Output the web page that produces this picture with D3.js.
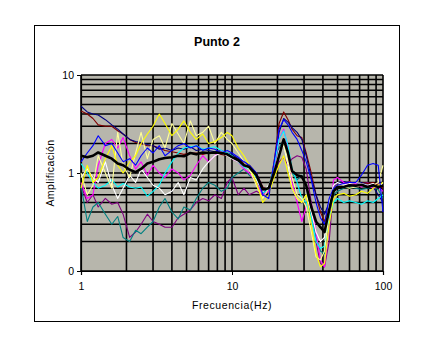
<!DOCTYPE html>
<html>
<head>
<meta charset="utf-8">
<script src="https://cdn.jsdelivr.net/npm/d3@7"></script>
<style>
  body { margin: 0; background: #fff; }
  text { font-family: Arial, "Liberation Sans", sans-serif; }
</style>
</head>
<body>
<div id="chart"></div>
<script>
// frecuencias (Hz) comunes a todas las series
const freq = [1, 1.1, 1.2, 1.3, 1.45, 1.6, 1.75, 1.9, 2.1, 2.3, 2.5, 2.75, 3, 3.3, 3.6, 4, 4.4, 4.8, 5.3, 5.8,
  6.4, 7, 7.7, 8.5, 9.3, 10, 11, 12, 13, 14.5, 16, 17.5, 19, 20.5, 22, 23.5, 25, 27, 29, 31,
  33.5, 36, 38.5, 41, 44, 47, 50, 55, 60, 66, 72, 79, 86, 93, 100];

const navy = [4.8, 4.2, 4.0, 3.9, 3.5, 3.1, 2.8, 2.5, 2.2, 2.1, 2.05, 1.95, 1.9, 1.75, 1.8, 1.7, 1.8, 1.75, 1.85, 1.7,
  1.75, 1.7, 1.65, 1.7, 1.6, 1.55, 1.4, 1.3, 1.2, 1.0, 0.7, 0.6, 1.2, 2.6, 3.6, 3.3, 2.9, 2.6, 2.2, 1.5,
  0.9, 0.6, 0.45, 0.38, 0.5, 0.75, 0.8, 0.82, 0.8, 0.78, 0.8, 0.75, 0.72, 0.6, 0.5];
const maroon = [4.3, 4.0, 3.6, 3.1, 3.0, 3.0, 2.7, 2.5, 2.2, 2.05, 2.0, 1.9, 1.9, 1.8, 1.7, 1.65, 1.6, 1.55, 1.6, 1.6,
  1.55, 1.6, 1.6, 1.55, 1.5, 1.5, 1.4, 1.25, 1.2, 1.0, 0.72, 0.65, 1.3, 3.2, 4.2, 3.5, 2.8, 2.4, 2.3, 1.6,
  1.0, 0.6, 0.4, 0.32, 0.45, 0.7, 0.75, 0.72, 0.78, 0.75, 0.8, 0.78, 0.8, 0.75, 0.7];
const blue = [1.3, 1.6, 1.9, 2.4, 1.9, 2.0, 1.6, 1.3, 1.4, 1.2, 1.5, 1.8, 1.6, 1.9, 1.5, 1.7, 1.9, 2.0, 1.8, 1.9,
  1.7, 1.8, 1.75, 1.6, 1.7, 1.6, 1.45, 1.3, 1.2, 1.0, 0.6, 0.55, 1.3, 2.8, 3.5, 3.1, 2.6, 2.2, 1.7, 1.3,
  0.85, 0.5, 0.35, 0.3, 0.55, 0.7, 0.75, 0.78, 0.8, 0.8, 0.95, 1.2, 1.25, 1.2, 0.4];
const magenta = [0.8, 0.55, 0.6, 1.2, 2.0, 2.2, 1.8, 2.3, 1.5, 1.1, 1.3, 0.95, 1.2, 1.0, 0.9, 1.1, 1.0, 0.85, 0.95, 1.2,
  1.5, 1.3, 1.5, 1.7, 1.55, 1.4, 1.3, 1.1, 1.0, 0.8, 0.6, 0.65, 1.1, 2.2, 2.8, 1.8, 0.8, 0.5, 0.32, 0.45,
  0.5, 0.25, 0.13, 0.11, 0.3, 0.85, 0.9, 0.8, 0.75, 0.78, 0.72, 0.75, 0.7, 0.72, 0.65];
const purple = [0.75, 0.5, 0.6, 0.45, 0.55, 0.48, 0.5, 0.38, 0.22, 0.25, 0.3, 0.38, 0.32, 0.3, 0.28, 0.28, 0.35, 0.38, 0.42, 0.5,
  0.55, 0.52, 0.6, 0.55, 0.8, 0.9, 0.6, 0.7, 0.6, 0.65, 0.6, 0.65, 1.0, 1.3, 1.45, 1.2, 1.4, 1.5, 1.45, 1.1,
  0.5, 0.2, 0.12, 0.11, 0.2, 0.7, 0.8, 0.78, 0.82, 0.75, 0.78, 0.8, 0.75, 0.8, 0.7];
const teal = [0.75, 0.32, 0.45, 0.5, 0.38, 0.3, 0.36, 0.22, 0.2, 0.26, 0.24, 0.28, 0.32, 0.45, 0.55, 0.4, 0.34, 0.45, 0.42, 0.55,
  0.7, 0.8, 0.75, 0.65, 0.7, 0.9, 1.0, 1.1, 0.95, 0.85, 0.62, 0.7, 1.2, 1.8, 2.2, 1.6, 1.0, 0.85, 0.95, 0.75,
  0.35, 0.22, 0.16, 0.15, 0.3, 0.6, 0.65, 0.7, 0.72, 0.7, 0.68, 0.7, 0.72, 0.68, 0.55];
const cyan = [1.25, 1.0, 0.8, 0.7, 0.75, 0.85, 0.72, 0.78, 0.72, 0.7, 0.72, 0.58, 0.65, 0.75, 1.0, 1.3, 1.6, 1.8, 1.85, 1.9,
  1.75, 1.8, 1.85, 1.7, 1.6, 1.5, 1.3, 1.15, 1.1, 0.9, 0.62, 0.68, 1.2, 2.2, 2.7, 1.9, 1.1, 0.8, 0.55, 0.5,
  0.35, 0.2, 0.17, 0.18, 0.35, 0.5, 0.55, 0.5, 0.52, 0.5, 0.48, 0.52, 0.5, 0.55, 0.6];
const yellow = [0.7, 1.2, 0.8, 0.9, 1.4, 1.9, 1.2, 1.0, 1.3, 1.5, 2.0, 2.5, 3.0, 4.0, 3.2, 2.4, 2.8, 3.4, 2.6, 2.2,
  2.5, 2.0, 2.1, 2.3, 2.6, 2.4, 1.8, 1.5, 1.2, 0.8, 0.5, 0.6, 0.9, 1.2, 1.5, 1.0, 0.7, 0.55, 0.5, 0.6,
  0.3, 0.15, 0.11, 0.12, 0.3, 0.55, 0.6, 0.62, 0.58, 0.6, 0.65, 0.62, 0.7, 0.75, 0.8];
const paleYellow = [1.0, 0.6, 0.75, 1.5, 1.0, 0.7, 2.6, 1.2, 0.9, 1.6, 2.6, 1.4, 2.2, 2.4, 1.8, 3.2, 2.5, 2.0, 3.4, 2.4,
  2.6, 3.0, 2.0, 2.6, 2.2, 2.0, 1.6, 1.3, 1.1, 0.75, 0.55, 0.7, 1.0, 1.6, 2.0, 1.3, 0.9, 0.6, 0.55, 0.45,
  0.25, 0.14, 0.13, 0.16, 0.4, 0.7, 0.75, 0.72, 0.7, 0.72, 0.75, 0.72, 0.75, 0.8, 1.2];
const white = [0.9, 1.1, 0.9, 0.8, 1.3, 0.75, 0.55, 0.7, 0.95, 0.8, 1.1, 0.9, 0.75, 0.7, 0.6, 0.65, 0.8, 0.6, 0.9, 0.85,
  1.1, 1.3, 1.5, 1.6, 1.5, 1.4, 1.3, 1.2, 1.1, 0.85, 0.65, 0.75, 1.0, 1.7, 1.9, 1.2, 0.7, 0.55, 0.5, 0.6,
  0.4, 0.25, 0.2, 0.22, 0.5, 0.75, 0.8, 0.75, 0.78, 0.8, 0.78, 0.75, 0.78, 0.72, 0.8];
const promedio = [1.5, 1.45, 1.5, 1.62, 1.5, 1.4, 1.25, 1.2, 1.08, 1.02, 1.1, 1.25, 1.3, 1.38, 1.42, 1.45, 1.5, 1.48, 1.6, 1.55,
  1.62, 1.6, 1.62, 1.6, 1.55, 1.45, 1.35, 1.2, 1.15, 0.95, 0.68, 0.7, 1.0, 1.5, 2.2, 1.6, 1.05, 0.95, 0.92, 0.75,
  0.45, 0.32, 0.28, 0.25, 0.42, 0.65, 0.72, 0.72, 0.75, 0.74, 0.76, 0.72, 0.75, 0.72, 0.74];

const series = [
  { values: purple, color: '#800080' },
  { values: teal, color: '#008080' },
  { values: maroon, color: '#800000' },
  { values: navy, color: '#000080' },
  { values: magenta, color: '#ff00ff' },
  { values: cyan, color: '#00ffff' },
  { values: white, color: '#ffffff' },
  { values: paleYellow, color: '#ffff99' },
  { values: yellow, color: '#ffff00' },
  { values: blue, color: '#0000ff' }
];

const xTicks = [1, 10, 100];
const yTicks = [0.1, 1, 10];
const yTickLabels = ['0', '1', '10'];

const W = 433, H = 354;
const PLOT = { LEFT: 81, TOP: 75, RIGHT: 383, BOTTOM: 271 };

const svg = d3.select('#chart').append('svg')
  .attr('width', W)
  .attr('height', H);

// marco del grafico
svg.append('rect')
  .attr('x', 34.5).attr('y', 25.5)
  .attr('width', 365).attr('height', 296)
  .attr('fill', '#fff')
  .attr('stroke', '#000')
  .attr('stroke-width', 1);

svg.append('text')
  .attr('x', 217).attr('y', 46)
  .attr('text-anchor', 'middle')
  .attr('font-size', 12.5)
  .attr('font-weight', 'bold')
  .text('Punto 2');

const x = d3.scaleLog().domain([1, 100]).range([PLOT.LEFT, PLOT.RIGHT]);
const y = d3.scaleLog().domain([0.1, 10]).range([PLOT.BOTTOM, PLOT.TOP]);

svg.append('rect')
  .attr('x', PLOT.LEFT).attr('y', PLOT.TOP)
  .attr('width', PLOT.RIGHT - PLOT.LEFT)
  .attr('height', PLOT.BOTTOM - PLOT.TOP)
  .attr('fill', '#b7b6ac');

// lineas de division (mayores y menores)
const grid = svg.append('g').attr('stroke', '#000').attr('stroke-width', 1.6);
const xGrid = d3.range(1, 10).concat(d3.range(10, 101, 10));
const yGrid = d3.range(1, 10).map(d => d / 10).concat(d3.range(1, 11));

grid.selectAll('.vx').data(xGrid).enter().append('line')
  .attr('x1', d => x(d)).attr('x2', d => x(d))
  .attr('y1', PLOT.TOP).attr('y2', PLOT.BOTTOM);

grid.selectAll('.hy').data(yGrid).enter().append('line')
  .attr('x1', PLOT.LEFT).attr('x2', PLOT.RIGHT)
  .attr('y1', d => y(d)).attr('y2', d => y(d));

// ejes
const xAxis = d3.axisBottom(x).tickValues(xTicks).tickSize(4).tickFormat(d3.format('d'));
const yAxis = d3.axisLeft(y).tickValues(yTicks).tickSize(4).tickFormat((d, i) => yTickLabels[i]);

const xg = svg.append('g')
  .attr('transform', `translate(0, ${PLOT.BOTTOM})`)
  .call(xAxis);
const yg = svg.append('g')
  .attr('transform', `translate(${PLOT.LEFT}, 0)`)
  .call(yAxis);

[xg, yg].forEach(g => {
  g.select('.domain').attr('stroke', '#000').attr('stroke-width', 1.2);
  g.selectAll('.tick line').attr('stroke', '#000');
  g.selectAll('.tick text')
    .attr('fill', '#000')
    .attr('font-size', 10.5)
    .attr('font-family', 'Arial, "Liberation Sans", sans-serif');
});
xg.selectAll('.tick text').attr('dy', '1.1em');
yg.selectAll('.tick text').attr('x', -7);

const line = d3.line()
  .x((d, i) => x(freq[i]))
  .y(d => y(d));

const lines = svg.append('g');
series.forEach(s => {
  lines.append('path')
    .datum(s.values)
    .attr('fill', 'none')
    .attr('stroke', s.color)
    .attr('stroke-width', 1.1)
    .attr('stroke-linejoin', 'round')
    .attr('d', line);
});

lines.append('path')
  .datum(promedio)
  .attr('fill', 'none')
  .attr('stroke', '#000')
  .attr('stroke-width', 2.6)
  .attr('stroke-linejoin', 'round')
  .attr('d', line);

svg.append('text')
  .attr('x', 232).attr('y', 309)
  .attr('text-anchor', 'middle')
  .attr('font-size', 10.5)
  .attr('letter-spacing', 0.6)
  .text('Frecuencia(Hz)');

svg.append('text')
  .attr('transform', 'translate(54, 173) rotate(-90)')
  .attr('text-anchor', 'middle')
  .attr('font-size', 10.5)
  .attr('letter-spacing', 0.4)
  .text('Amplificación');
</script>
</body>
</html>
